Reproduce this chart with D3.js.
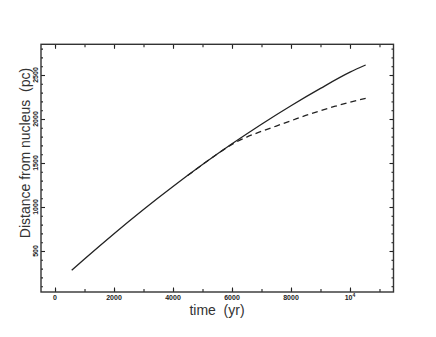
<!DOCTYPE html>
<html><head><meta charset="utf-8">
<script src="https://cdn.jsdelivr.net/npm/d3@7"></script>
<style>body{margin:0;background:#fff}svg{display:block}</style>
</head><body>
<script>
// ---- data ----
const timeSolid = [566, 1000, 2000, 3000, 4000, 5000, 6000, 7000, 8000, 9000, 10000, 10532];
const distSolid = [280, 409, 697, 972, 1233, 1482, 1718, 1941, 2151, 2348, 2532, 2614];
const timeDashed = [4500, 5000, 5500, 6000, 6500, 7000, 7500, 8000, 8500, 9000, 9500, 10000, 10532];
const distDashed = [1358, 1482, 1602, 1712, 1795, 1860, 1920, 1980, 2040, 2095, 2145, 2192, 2235];
const xMajorTicks = [0, 2000, 4000, 6000, 8000, 10000];
const xTickLabels = ["0", "2000", "4000", "6000", "8000", "10^4"];
const xMinorTicks = d3.range(0, 11001, 1000);
const yMajorTicks = [500, 1000, 1500, 2000, 2500];
const yTickLabels = ["500", "1000", "1500", "2000", "2500"];
const yMinorTicks = d3.range(100, 2801, 100);
const xTitle = "time  (yr)";
const yTitle = "Distance from nucleus  (pc)";

const W = 436, H = 337;
const L = 41, R = 393.5, T = 44.3, B = 292;
const svg = d3.select("body").append("svg").attr("width", W).attr("height", H);
const x = d3.scaleLinear().domain([-475, 11475]).range([L, R]);
const y = d3.scaleLinear().domain([34, 2849]).range([B, T]);
const ink = "#222";

function styleAxis(g){
  g.select(".domain").remove();
  g.selectAll(".tick line").attr("stroke", ink).attr("stroke-width", 1.1);
}
// bottom / top ticks (inward)
svg.append("g").attr("transform", `translate(0,${B})`)
  .call(d3.axisBottom(x).tickValues(xMinorTicks).tickSize(-3).tickFormat("")).call(styleAxis);
svg.append("g").attr("transform", `translate(0,${B})`)
  .call(d3.axisBottom(x).tickValues(xMajorTicks).tickSize(-4.5).tickFormat("")).call(styleAxis);
svg.append("g").attr("transform", `translate(0,${T})`)
  .call(d3.axisTop(x).tickValues(xMinorTicks).tickSize(-3).tickFormat("")).call(styleAxis);
svg.append("g").attr("transform", `translate(0,${T})`)
  .call(d3.axisTop(x).tickValues(xMajorTicks).tickSize(-4.5).tickFormat("")).call(styleAxis);
// left / right ticks (inward)
svg.append("g").attr("transform", `translate(${L},0)`)
  .call(d3.axisLeft(y).tickValues(yMinorTicks).tickSize(-2).tickFormat("")).call(styleAxis);
svg.append("g").attr("transform", `translate(${L},0)`)
  .call(d3.axisLeft(y).tickValues(yMajorTicks).tickSize(-4).tickFormat("")).call(styleAxis);
svg.append("g").attr("transform", `translate(${R},0)`)
  .call(d3.axisRight(y).tickValues(yMinorTicks).tickSize(-2).tickFormat("")).call(styleAxis);
svg.append("g").attr("transform", `translate(${R},0)`)
  .call(d3.axisRight(y).tickValues(yMajorTicks).tickSize(-4).tickFormat("")).call(styleAxis);

// frame
svg.append("rect").attr("x", L).attr("y", T).attr("width", R - L).attr("height", B - T)
  .attr("fill", "none").attr("stroke", "#333").attr("stroke-width", 1.4);

// x tick labels
const fontTick = "'Liberation Sans', Arial, sans-serif";
xMajorTicks.forEach((v, i) => {
  const t = svg.append("text").attr("x", x(v)).attr("y", 300)
    .attr("text-anchor", "middle").attr("font-family", fontTick)
    .attr("font-size", 7).attr("font-weight", "bold").attr("fill", ink);
  const lab = xTickLabels[i];
  if (lab.includes("^")) {
    const [base, exp] = lab.split("^");
    t.append("tspan").text(base);
    t.append("tspan").attr("dy", -3).attr("font-size", 5).text(exp);
  } else t.text(lab);
});
// y tick labels (rotated)
yMajorTicks.forEach((v, i) => {
  svg.append("text").attr("transform", `translate(37.5,${y(v)}) rotate(-90)`)
    .attr("text-anchor", "middle").attr("font-family", fontTick)
    .attr("font-size", 7).attr("font-weight", "bold").attr("fill", ink)
    .text(yTickLabels[i]);
});

// titles
svg.append("text").attr("x", 217).attr("y", 314.5).attr("text-anchor", "middle")
  .attr("font-family", "'Liberation Sans', Arial, sans-serif").attr("font-size", 14)
  .attr("fill", "#333").style("white-space", "pre").text(xTitle);
svg.append("text").attr("transform", `translate(30,153) rotate(-90)`).attr("text-anchor", "middle")
  .attr("font-family", "'Liberation Sans', Arial, sans-serif").attr("font-size", 14)
  .attr("fill", "#333").style("white-space", "pre").text(yTitle);

// curves
const line = d3.line().x(d => x(d[0])).y(d => y(d[1])).curve(d3.curveMonotoneX);
svg.append("path").datum(timeSolid.map((t, i) => [t, distSolid[i]]))
  .attr("d", line).attr("fill", "none").attr("stroke", ink).attr("stroke-width", 1.3);
svg.append("path").datum(timeDashed.map((t, i) => [t, distDashed[i]]))
  .attr("d", line).attr("fill", "none").attr("stroke", ink).attr("stroke-width", 1.3)
  .attr("stroke-dasharray", "6,4");
</script>
</body></html>
